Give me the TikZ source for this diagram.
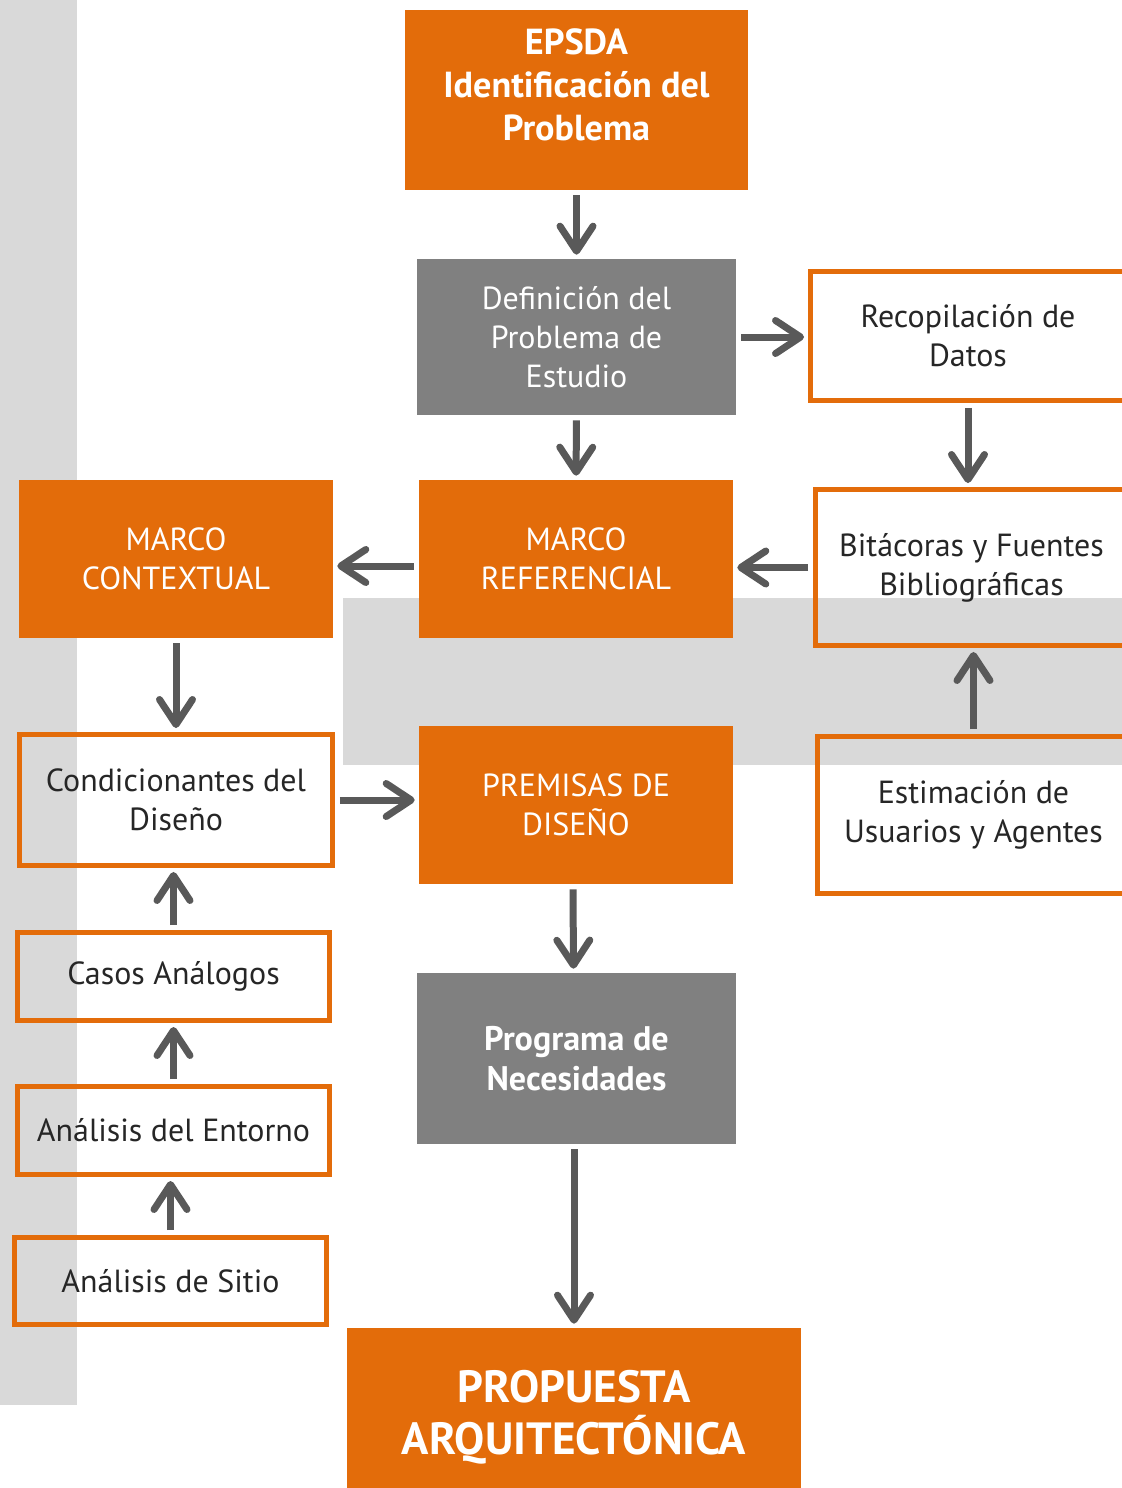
\documentclass[tikz,border=0pt]{standalone}
\usepackage{fontspec}
\setmainfont{PT Sans}
\usetikzlibrary{arrows.meta}

\definecolor{naranja}{HTML}{E36C0A}
\definecolor{gris}{HTML}{808080}
\definecolor{grisclaro}{HTML}{D9D9D9}
\definecolor{flecha}{HTML}{595959}
\definecolor{texto}{HTML}{262626}

\newcommand{\letranormal}{\fontsize{18.2}{22.2}\selectfont}
\newcommand{\letranegra}{\fontsize{20.6}{24.5}\selectfont\bfseries}
\newcommand{\letramedia}{\fontsize{19.4}{22.8}\selectfont\bfseries}
\newcommand{\letragrande}{\fontsize{25.7}{29.6}\selectfont\bfseries}

\tikzset{
  caja/.style={fill=naranja, text=white, align=center, inner sep=0pt, font=\letranormal},
  cajagris/.style={fill=gris, text=white, align=center, inner sep=0pt, font=\letranormal},
  marco/.style={draw=naranja, line width=0.1cm, text=texto, align=center, inner sep=0pt, font=\letranormal},
  flechita/.style={draw=flecha, line width=0.14cm,
    -{Straight Barb[length=0.5cm, width=0.66cm, line cap=round, line join=round]},
    shorten <=0.1cm, shorten >=0.08cm}
}

\begin{document}
\begin{tikzpicture}[x=0.02cm, y=-0.02cm]
  \useasboundingbox (0,0) rectangle (1122,1488);

  % fondos
  \fill[grisclaro] (0,0) rectangle (77,1405);
  \fill[grisclaro] (343,598) rectangle (1140,765);

  % columna central
  \node[caja, font=\letranegra, minimum width=6.86cm, minimum height=3.6cm, text depth=0.62cm] (epsda) at (576.5,100) {EPSDA\\Identificación del\\Problema};
  \node[cajagris, minimum width=6.38cm, minimum height=3.12cm] (defin) at (576.5,337) {Definición del\\Problema de\\Estudio};
  \node[caja, minimum width=6.28cm, minimum height=3.16cm] (mref) at (576,559) {MARCO\\REFERENCIAL};
  \node[caja, minimum width=6.28cm, minimum height=3.16cm] (prem) at (576,805) {PREMISAS DE\\DISEÑO};
  \node[cajagris, font=\letramedia, minimum width=6.38cm, minimum height=3.42cm] (prog) at (576.5,1058.5) {Programa de\\Necesidades};
  \node[caja, font=\letragrande, minimum width=9.08cm, minimum height=3.56cm] (prop) at (574,1417) {PROPUESTA\\ARQUITECTÓNICA};

  % columna derecha
  \node[marco, minimum width=6.3cm, minimum height=2.58cm] (recop) at (968,336) {Recopilación de\\Datos};
  \node[marco, minimum width=6.24cm, minimum height=3.12cm] (bitac) at (971.5,567.5) {Bitácoras y Fuentes\\Bibliográficas};
  \node[marco, minimum width=6.24cm, minimum height=3.14cm] (estim) at (973.5,815) {Estimación de\\Usuarios y Agentes};

  % columna izquierda
  \node[caja, minimum width=6.28cm, minimum height=3.16cm] (mcont) at (176,559) {MARCO\\CONTEXTUAL};
  \node[marco, minimum width=6.26cm, minimum height=2.62cm] (cond) at (176,800) {Condicionantes del\\Diseño};
  \node[marco, minimum width=6.24cm, minimum height=1.76cm] (casos) at (173.5,976.5) {Casos Análogos};
  \node[marco, minimum width=6.24cm, minimum height=1.76cm] (entorno) at (173.5,1130.5) {Análisis del Entorno};
  \node[marco, minimum width=6.24cm, minimum height=1.74cm] (sitio) at (170.5,1281) {Análisis de Sitio};

  % flechas
  \draw[flechita] (epsda) -- (defin);
  \draw[flechita] (defin.east) -- (defin.east -| recop.west);
  \draw[flechita] (defin) -- (mref);
  \draw[flechita] (recop.south) -- (recop.south |- bitac.north);
  \draw[flechita] (bitac.west) -- (bitac.west -| mref.east);
  \draw[flechita] ([yshift=-0.14cm]mref.west) -- ([yshift=-0.14cm]mcont.east);
  \draw[flechita] (estim.north) -- (estim.north |- bitac.south);
  \draw[flechita] (mcont.south) -- (mcont.south |- cond.north);
  \draw[flechita] (cond.east) -- (cond.east -| prem.west);
  \draw[flechita] (casos.north) -- (casos.north |- cond.south);
  \draw[flechita] (entorno.north) -- (entorno.north |- casos.south);
  \draw[flechita] (sitio.north) -- (sitio.north |- entorno.south);
  \draw[flechita] ([xshift=-0.06cm]prem.south) -- ([xshift=-0.06cm]prog.north);
  \draw[flechita] (prop.north |- prog.south) -- (prop.north);
\end{tikzpicture}
\end{document}
